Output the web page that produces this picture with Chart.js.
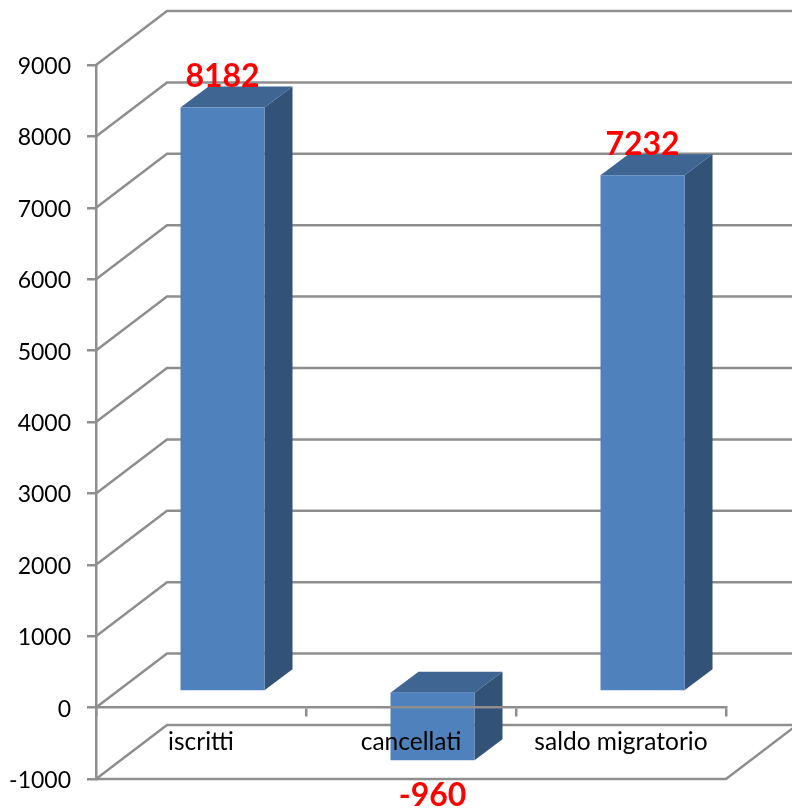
<!DOCTYPE html>
<html>
<head>
<meta charset="utf-8">
<title>Saldo migratorio</title>
<script src="https://cdn.jsdelivr.net/npm/chart.js@4"></script>
<style>
  html, body { margin: 0; padding: 0; background: #fff; }
  #wrap { width: 792px; height: 810px; }
</style>
</head>
<body>
<div id="wrap"><canvas id="myChart" width="792" height="810"></canvas></div>
<script>
// DATA
const categories = ["iscritti", "cancellati", "saldo migratorio"];
const values = [8182, -960, 7232];

// STYLE
const gridColor = "#8e8e8e";
const frontColor = "#4f81bd";
const topColor = "#3f6593";
const sideColor = "#325277";
const wallDx = 71;
const wallDy = -54;
const barShiftX = 21.5;
const barShiftY = -16;
const depthX = 28;
const depthY = -21;

const wallPlugin = {
  id: "wall",
  beforeDatasetsDraw(chart) {
    const { ctx, scales, width } = chart;
    const y = scales.y;
    const left = y.right;
    ctx.save();
    ctx.strokeStyle = gridColor;
    ctx.lineWidth = 2.5;
    y.ticks.forEach((t) => {
      const py = y.getPixelForValue(t.value);
      ctx.beginPath();
      ctx.moveTo(left, py);
      ctx.lineTo(left + wallDx, py + wallDy);
      ctx.lineTo(width, py + wallDy);
      ctx.stroke();
    });
    // floor
    const floorY = y.getPixelForValue(y.min);
    const right = chart.chartArea.right;
    ctx.beginPath();
    ctx.moveTo(left, floorY);
    ctx.lineTo(right, floorY);
    ctx.lineTo(right + wallDx, floorY + wallDy);
    ctx.stroke();
    ctx.restore();
  },
};

const barPlugin = {
  id: "bar3d",
  beforeDatasetDraw(chart) {
    const { ctx } = chart;
    ctx.save();
    ctx.translate(barShiftX, barShiftY);
    chart.getDatasetMeta(0).data.forEach((bar) => {
      const top = Math.min(bar.y, bar.base);
      const bottom = Math.max(bar.y, bar.base);
      const l = bar.x - bar.width / 2;
      const r = bar.x + bar.width / 2;
      ctx.fillStyle = topColor;
      ctx.beginPath();
      ctx.moveTo(l, top);
      ctx.lineTo(l + depthX, top + depthY);
      ctx.lineTo(r + depthX, top + depthY);
      ctx.lineTo(r, top);
      ctx.closePath();
      ctx.fill();
      ctx.fillStyle = sideColor;
      ctx.beginPath();
      ctx.moveTo(r, top);
      ctx.lineTo(r + depthX, top + depthY);
      ctx.lineTo(r + depthX, bottom + depthY);
      ctx.lineTo(r, bottom);
      ctx.closePath();
      ctx.fill();
    });
  },
  afterDatasetDraw(chart) {
    chart.ctx.restore();
  },
  afterDraw(chart) {
    // value labels
    const { ctx } = chart;
    ctx.save();
    ctx.fillStyle = "#ff0000";
    ctx.font = "bold 32px Lato";
    ctx.textAlign = "center";
    ctx.textBaseline = "middle";
    chart.getDatasetMeta(0).data.forEach((bar, i) => {
      const v = values[i];
      const off = v < 0 ? 36 : -31;
      ctx.fillText(String(v), bar.x + barShiftX, bar.y + barShiftY + off);
    });
    ctx.restore();
  },
};

new Chart(document.querySelector("#myChart"), {
  type: "bar",
  data: {
    labels: categories,
    datasets: [
      {
        data: values,
        backgroundColor: frontColor,
        borderWidth: 0,
        barPercentage: 0.4,
        categoryPercentage: 1,
        clip: false,
      },
    ],
  },
  plugins: [wallPlugin, barPlugin],
  options: {
    responsive: false,
    animation: false,
    layout: { padding: { top: 65, bottom: 31, right: 66, left: 0 } },
    plugins: { legend: { display: false }, tooltip: { enabled: false } },
    scales: {
      x: {
        position: { y: 0 },
        grid: {
          z: 1,
          offset: true,
          drawOnChartArea: false,
          color: gridColor,
          lineWidth: 2.5,
          tickLength: 8,
        },
        border: { z: 1, color: gridColor, width: 2.5 },
        ticks: {
          z: 1,
          color: "#000",
          font: { family: "Lato", size: 24.5 },
          padding: 12,
          maxRotation: 0,
          autoSkip: false,
        },
      },
      y: {
        min: -1000,
        max: 9000,
        afterFit(scale) {
          scale.width = 96;
        },
        grid: {
          drawOnChartArea: false,
          color: gridColor,
          lineWidth: 2.5,
          tickLength: 9,
        },
        border: { color: gridColor, width: 2.5 },
        ticks: {
          stepSize: 1000,
          color: "#000",
          font: { family: "Lato", size: 23 },
          padding: 16,
          labelOffset: 1.5,
          callback: (v) => String(v),
        },
      },
    },
  },
});
</script>
</body>
</html>
